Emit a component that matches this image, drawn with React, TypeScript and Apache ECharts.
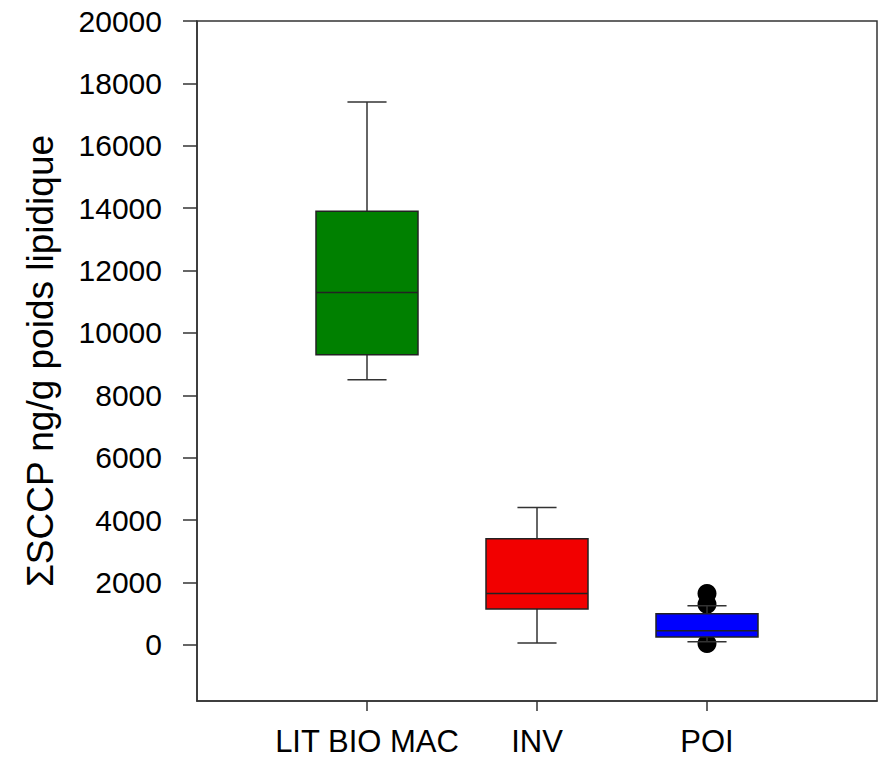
import React, { useEffect, useRef } from "react";
import * as echarts from "echarts";

// Categories and box statistics (ng/g lipid weight)
const categories = ["LIT BIO MAC", "INV", "POI"];
const mins = [8500, 60, 100];
const q1s = [9300, 1150, 250];
const medians = [11300, 1650, 450];
const q3s = [13900, 3400, 1000];
const maxs = [17400, 4400, 1250];

// Outliers
const outlierGroups = ["POI", "POI", "POI"];
const outlierValues = [1650, 1300, 40];

// Y tick labels
const yTicks = [0, 2000, 4000, 6000, 8000, 10000, 12000, 14000, 16000, 18000, 20000];

const boxColors = ["#008000", "#f20000", "#0000ff"];
const FONT = "'Liberation Sans', Arial, sans-serif";
const INK = "#333333";

export default function App() {
  const ref = useRef<HTMLDivElement>(null);

  useEffect(() => {
    document.body.style.margin = "0";
    if (!ref.current) return;
    const chart = echarts.init(ref.current, undefined, { renderer: "svg" });

    const boxRows = categories.map((_, i) => [i + 1, mins[i], q1s[i], medians[i], q3s[i], maxs[i]]);
    const outlierRows = outlierGroups.map((g, i) => [categories.indexOf(g) + 1, outlierValues[i]]);

    const option: any = {
      animation: false,
      backgroundColor: "#ffffff",
      grid: {
        left: 197,
        right: 5,
        top: 21,
        bottom: 60,
        show: true,
        borderColor: INK,
        borderWidth: 1.5,
        backgroundColor: "transparent",
      },
      xAxis: {
        type: "value",
        min: 0,
        max: 4,
        splitLine: { show: false },
        axisLine: { show: true, onZero: false, lineStyle: { color: INK, width: 1.5 } },
        axisTick: { show: true, length: 10, customValues: [1, 2, 3], lineStyle: { color: INK, width: 1.5 } },
        axisLabel: {
          customValues: [1, 2, 3],
          formatter: (v: number) => categories[Math.round(v) - 1] ?? "",
          color: "#000",
          fontFamily: FONT,
          fontSize: 31,
          margin: 25,
        },
      },
      yAxis: {
        type: "value",
        min: -1800,
        max: 20000,
        name: "ΣSCCP ng/g poids lipidique",
        nameLocation: "middle",
        nameGap: 138,
        nameTextStyle: { color: "#000", fontFamily: FONT, fontSize: 37 },
        splitLine: { show: false },
        axisLine: { show: true, onZero: false, lineStyle: { color: INK, width: 1.5 } },
        axisTick: { show: true, length: 14, customValues: yTicks, lineStyle: { color: INK, width: 1.5 } },
        axisLabel: {
          customValues: yTicks,
          formatter: (v: number) => String(v),
          color: "#000",
          fontFamily: FONT,
          fontSize: 30,
          margin: 35,
        },
      },
      series: [
        {
          type: "scatter",
          data: outlierRows,
          symbol: "circle",
          symbolSize: 19,
          itemStyle: { color: "#000", opacity: 1 },
          z: 1,
        },
        {
          type: "custom",
          data: boxRows,
          z: 5,
          encode: { x: 0, y: [1, 2, 3, 4, 5] },
          renderItem: (params: any, api: any) => {
            const x = api.value(0);
            const idx = params.dataIndex;
            const unit = api.size([1, 0])[0];
            const bw = unit * 0.6;
            const cw = unit * 0.23;
            const cx = api.coord([x, 0])[0];
            const yMin = api.coord([x, api.value(1)])[1];
            const yQ1 = api.coord([x, api.value(2)])[1];
            const yMed = api.coord([x, api.value(3)])[1];
            const yQ3 = api.coord([x, api.value(4)])[1];
            const yMax = api.coord([x, api.value(5)])[1];
            const lineStyle = { stroke: INK, lineWidth: 1.5 };
            return {
              type: "group",
              children: [
                { type: "line", shape: { x1: cx, y1: yQ3, x2: cx, y2: yMax }, style: lineStyle },
                { type: "line", shape: { x1: cx, y1: yQ1, x2: cx, y2: yMin }, style: lineStyle },
                { type: "line", shape: { x1: cx - cw / 2, y1: yMax, x2: cx + cw / 2, y2: yMax }, style: lineStyle },
                { type: "line", shape: { x1: cx - cw / 2, y1: yMin, x2: cx + cw / 2, y2: yMin }, style: lineStyle },
                {
                  type: "rect",
                  shape: { x: cx - bw / 2, y: yQ3, width: bw, height: yQ1 - yQ3 },
                  style: { fill: boxColors[idx], stroke: "#222", lineWidth: 1.5 },
                },
                {
                  type: "line",
                  shape: { x1: cx - bw / 2, y1: yMed, x2: cx + bw / 2, y2: yMed },
                  style: { stroke: "#222", lineWidth: 1.5 },
                },
              ],
            };
          },
        },
      ],
    };

    chart.setOption(option);
    return () => chart.dispose();
  }, []);

  return <div ref={ref} style={{ position: "absolute", left: 0, top: 0, width: 882, height: 761 }} />;
}
